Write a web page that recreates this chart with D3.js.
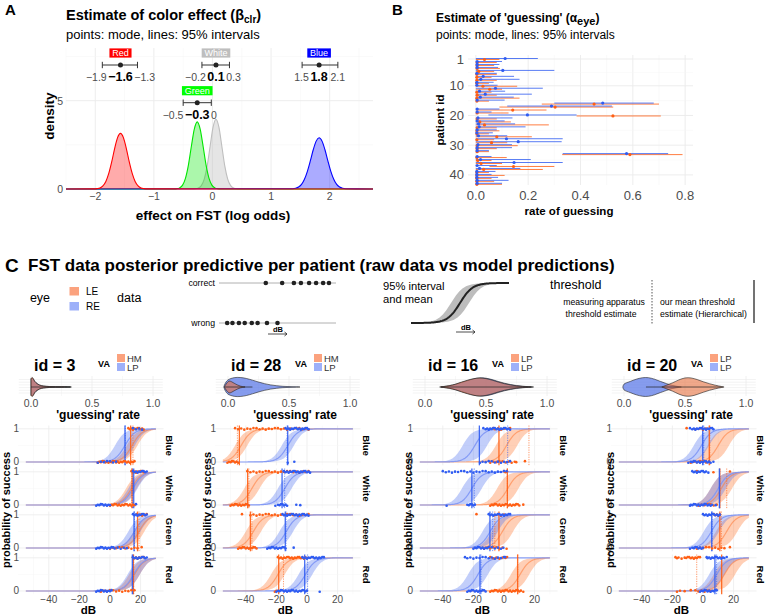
<!DOCTYPE html>
<html><head><meta charset="utf-8">
<script src="https://cdn.jsdelivr.net/npm/d3@7"></script>
<style>body{margin:0;background:#fff} svg text{font-family:"Liberation Sans",Arial,sans-serif}</style>
</head><body>
<svg id="c" width="766" height="616"></svg>
<script>
// ===================== DATA =====================
// Panel A: colour effect
const colorNames = ["Red", "White", "Green", "Blue"];
const colorMode = [-1.57, 0.06, -0.26, 1.82];
const colorLo = [-1.88, -0.18, -0.50, 1.53];
const colorHi = [-1.28, 0.29, -0.02, 2.14];
const densOffsets = [-0.45,-0.4,-0.35,-0.3,-0.25,-0.2,-0.15,-0.1,-0.05,0,0.05,0.1,0.15,0.2,0.25,0.3,0.35,0.4,0.45];
const densRed   = [0.005,0.02,0.06,0.18,0.43,0.88,1.53,2.29,2.91,3.15,2.91,2.29,1.53,0.88,0.43,0.18,0.06,0.02,0.005];
const densWhite = [0,0,0.01,0.05,0.19,0.56,1.31,2.42,3.50,3.95,3.50,2.42,1.31,0.56,0.19,0.05,0.01,0,0];
const densGreen = [0,0.003,0.015,0.065,0.22,0.62,1.37,2.42,3.39,3.8,3.39,2.42,1.37,0.62,0.22,0.065,0.015,0.003,0];
const densBlue  = [0.013,0.04,0.11,0.26,0.55,1.00,1.59,2.22,2.71,2.9,2.71,2.22,1.59,1.00,0.55,0.26,0.11,0.04,0.013];
const axisATicksX = [-2, -1, 0, 1, 2];
const axisATicksY = [0, 5];

// Panel B: guessing per patient / eye
const patientIds = [1,2,3,4,5,6,7,8,9,10,11,12,13,14,15,16,17,18,19,20,21,22,23,24,25,26,27,28,29,30,31,32,33,34,35,36,37,38,39,40,41,42,43];
const leMode = [0.033,0.005,0.005,0.005,0.011,0.004,0.004,0.004,0.004,0.027,0.053,0.004,0.005,0.004,0.004,0.452,0.303,0.141,0.005,0.524,0.005,0.015,0.033,0.005,0.004,0.004,0.08,0.004,0.06,0.005,0.005,0.005,0.589,0.004,0.007,0.02,0.144,0.03,0.004,0.004,0.004,0.004,0.004];
const leLo   = [0,0,0,0,0,0,0,0,0,0,0,0,0,0,0,0.252,0.09,0,0,0.385,0,0,0,0,0,0,0,0,0,0,0,0,0.33,0,0,0,0.052,0,0,0,0,0,0];
const leHi   = [0.09,0.08,0.07,0.092,0.07,0.08,0.06,0.08,0.05,0.158,0.10,0.06,0.08,0.167,0.05,0.70,0.525,0.27,0.125,0.707,0.08,0.134,0.279,0.08,0.09,0.05,0.214,0.07,0.12,0.16,0.08,0.05,0.79,0.118,0.06,0.10,0.30,0.256,0.05,0.11,0.06,0.07,0.10];
const reMode = [0.112,0.005,0.005,0.005,0.103,0.004,0.028,0.019,0.004,0.004,0.075,0.014,0.036,0.017,0.005,0.485,0.289,0.005,0.005,0.197,0.008,0.005,0.01,0.013,0.005,0.004,0.01,0.117,0.162,0.008,0.005,0.005,0.576,0.005,0.018,0.146,0.005,0.014,0.004,0.004,0.004,0.005,0.005];
const reLo   = [0,0,0,0,0,0,0,0,0,0,0,0,0,0,0,0.30,0.12,0,0,0.048,0,0,0,0,0,0,0,0,0,0,0,0,0.332,0,0,0,0,0,0,0,0,0,0];
const reHi   = [0.237,0.10,0.09,0.085,0.30,0.08,0.146,0.167,0.068,0.083,0.256,0.112,0.214,0.145,0.11,0.68,0.52,0.09,0.06,0.385,0.14,0.11,0.15,0.19,0.08,0.065,0.12,0.332,0.328,0.138,0.138,0.05,0.735,0.06,0.21,0.332,0.08,0.17,0.075,0.06,0.085,0.125,0.10];
const axisBTicksX = [0, 0.2, 0.4, 0.6, 0.8];
const axisBTicksY = [1, 10, 20, 30, 40];

// Panel C: four patients x four colours
const cPatients = [3, 28, 16, 20];
const cVAle = ["HM", "HM", "LP", "LP"];
const cVAre = ["LP", "LP", "LP", "LP"];
const cFacets = ["Blue", "White", "Green", "Red"];
const cTicksX = [-40, -20, 0, 20];
const cViolinTicks = [0, 0.5, 1];
// model curves (dB): 50% point of mean curve, half-width of 95% band
const leMid  = [[14.5,14,19,16],[-43,-36,-35,-19],[1.7,2.5,-1,10.5],[10,12,15.5,14]];
const leBand = [[3.5,3.5,3.5,3.5],[4,5,5,4.5],[7,7,7,6],[7,7,7,7]];
const reMid  = [[9.8,15,16,15.5],[-12.5,-14.5,-13.5,-1],[-19,-21,-9,-17],[-1,10,5.5,9]];
const reBand = [[6.5,3,4,4],[4,4.5,4.5,4.5],[8,6.5,5,6.5],[5,5,5,5]];
// thresholds: hierarchical estimate (solid) & apparatus estimate (dotted)
const leThr = [[13.5,14.5,18,15.3],[-44.2,-38.8,-37,-18.5],[-3.3,2.2,-3.3,8.9],[4.1,11,11,12.2]];
const leApp = [[15,14,19,15.5],[-45.5,-38,-36,-15.3],[16.3,2.2,-6,9],[4.5,15.5,12,-4.1]];
const reThr = [[9.8,15.5,15.7,14.6],[-12.6,-16.3,-14.2,-1.5],[-16.1,-21,-9.2,-15.7],[-0.2,10.7,5.7,7.8]];
const reApp = [[10,14.7,16,15],[-13,-14.6,-13.7,0.4],[2.4,-19.4,-7.4,-15],[0.5,11,6,8.9]];
// raw responses (dB of stimulus), correct = 1, wrong = 0
const leCorrect = [
  [[12,13,14,15,16,17,18,19,20,21,22],[14,15,16,17,18,19,20,21,22],[17.5,19,20,21,22,23,24],[15,16,17,18,19,20,21,22]],
  [[-47,-45,-43,-41,-39,-37,-35,-33,-31,-29,-27,-25,-23,-21,-19,-17,-15,-13,-11,-9,-7,-5,-3,-1,1],[-39,-37,-35,-33,-31,-29,-27,-25,-23,-21,-19,-17,-15,-13,-11,-9,-7,-5,-3,-1,1],[-42.5,-37,-35,-33,-31,-29,-27,-25,-23,-21,-19,-17,-15,-13,-11,-9,-7,-5,-3,-1,1],[-19,-18,-17,-16,-15,-14,-13,-12,-11,-10,-9,-8,-7,-6,-5,-4,-3,-2,-1,0]],
  [[-7,-6,-4,-2,0,2,4],[0,1,2],[-18,-6,-4,-2,0,2],[-9,-7,-5,-3,-1,1,2]],
  [[-10.7,-5,-2,0,2,4],[-4,6.8,17.6],[7,8,9,10,11],[-18,-17,-16,-14,-12,-11,-10,-9,-8,-7,-6,-5,-4,-3,-2]]
];
const leWrong = [
  [[-8,-7,-6,-5,-4,-3,-2,-1,0,1,2,3,4,5,6,7,8,9,10,11,12,13,14,15,16],[0,1,2,3,4,5,6,7,8,9,10,11,12,13,14,15,16],[0,2,4,6,8,10,12,14,16,18,20.7],[-6,-4,-2,0,2,4,6,8,10,12,14,16]],
  [[-52,-51,-50,-49,-48,-47,-46,-45],[-50,-49,-48,-47,-46,-45,-44,-43,-42,-41,-40,-39,-38],[-45,-44,-43,-42,-41,-40,-39,-38,-37,-36,-35,-34,-33],[-21,-20]],
  [[-9,-7,-5,-3,-1,1,3,5,7,8,13.7],[-9,-8,-7,-6,-5,-4,-3,-2,-1,0,1,2,3,4,5,6,7,8,9,10,12.6],[-13,-11,-9,-7,-5,-3,-1,1.7],[-9,-8,-7,-6,-5,-4,-3,-2,-1,0,1,2,3,4,5,6,7,8,9,10,11,12.6]],
  [[-8,-6,-4,-2,0,2,4],[-3,-1,1,3,5,7,9],[-4,-2,0,2,4,6,8,10,12,14,17.6],[-17,-15,-12,-8,-5,-3,-1,1,3,4.6]]
];
const reCorrect = [
  [[15,17,19,21],[15,16,17,18,19,20,21,22,23,24],[15,16,17,18,19,20,21,22,23,24],[15,16,17,18,19,20,21,22,23,24]],
  [[-14,-13,-12,-11,-10,-9,-8,-7,-6,-5,-4,-3,-2,-1,0,1],[-15,-14,-13,-12,-11,-10,-9,-8,-7,-6,-5,-4,-3,-2,-1,0,1,2],[-16,-15,-14,-13,-12,-11,-10,-9,-8,-7,-6,-5,-4,-3,-2,-1,0,1],[-3,-2,-1,0,1,2,3,4,5,6,7,8,9,10,11]],
  [[-13.5,-12,-11,-10,-9,-8,-7,-6,-5,-4,-3,-2,-1,0,1,2,3,4],[-40,-38,-36,-34,-32,-30,-28,-26,-24,-22,-20,-18,-16,-14,-12,-10,-8,-6,-4,-2,0,1.7],[-10,-9,-8,-7,-6,-5,-4,-3,-2,-1,0,1,2,3,4],[-25.5,-24,-22,-20,-18,-16,-14,-12,-10,-8,-6,-4,-2,0,0.7]],
  [[-8.5,-7,-6,-5,-4,-3,-2,-1,0,1,2,3,4,5,6,6.8],[-7,-6,-5,-4,-3,-2,-1,0,1,2,3.5],[0,1,2,3,4,5,6,7,8,9,10,11],[2.4,3,4,5,6,7,8,9,10,11,12,13,14,15.5]]
];
const reWrong = [
  [[-8,-6,-4,-2,0,2,4],[-9,-8,-7,-6,-5,-4,-3,-2,-1,0,17],[-9,-8,-7,-6,-5,-4,-3,-2,-1,0,1,2,3,5,7,9,11],[-9,-8,-7,-6,-5,-4,-3,-2,-1,0,1]],
  [[-12.6,-8.3],[-20.7,-19,-18,-17,-16,-15,-14,-13,-7,-4.4],[-26,-25,-24,-23,-22,-21,-20,-19,-18,-17,-16,-15,-14,-8.7],[-20,-19,-18,-17,-16,-15,-14,-13,-12,-11,-10,-9,-8,-7,-6,-5,-4,-3,-2,-1,0,8.3]],
  [[-15.7,-14,-12,-10,-8,-6,-4,-2,0,2,4],[-37.5,-24,-23,-22,-21,-20,-19],[-20,-19,-18,-17,-16,-15,-14,-13,-12,-11,-10,-8,-6,-4,-2,-0.4],[-24,-23,-22,-21,-20,-19,-18,-17,-16,-15,-14,-13,-12]],
  [[-9.6,-8,-7,-6,-5,-4,-3,-2,-1,0,1,2,3,4,5,6.8],[-8.5,-8,-7,-6,-5,-4,-3,-2,-1,0,1,2,3,4,5,6,8.3],[-8.5,-7,-6,-5,-4,-3,-2,-1,0],[-2,-1,0,1,2,3,4,5,6,7,8,9]]
];
// posterior of guessing rate: [rate, relative density]
const vioLE = [
  [[0,0.9],[0.01,1],[0.02,0.85],[0.03,0.6],[0.05,0.35],[0.07,0.2],[0.1,0.1],[0.15,0.05],[0.2,0.03],[0.25,0.02],[0.3,0.01],[0.33,0]],
  [[-0.03,0],[-0.01,0.4],[0.01,0.62],[0.03,0.55],[0.05,0.4],[0.08,0.2],[0.1,0.1],[0.12,0.04],[0.14,0]],
  [[0.12,0],[0.2,0.15],[0.25,0.3],[0.3,0.52],[0.35,0.72],[0.4,0.88],[0.45,0.95],[0.5,0.88],[0.55,0.72],[0.6,0.52],[0.65,0.35],[0.7,0.22],[0.75,0.12],[0.8,0.06],[0.85,0.02],[0.87,0]],
  [[0.31,0],[0.35,0.2],[0.4,0.45],[0.45,0.75],[0.5,0.95],[0.55,0.95],[0.6,0.78],[0.65,0.55],[0.7,0.35],[0.75,0.18],[0.8,0.05],[0.82,0]]
];
const vioRE = [
  [[0,0.85],[0.01,0.95],[0.02,0.82],[0.03,0.6],[0.05,0.36],[0.07,0.21],[0.1,0.11],[0.15,0.05],[0.2,0.03],[0.25,0.02],[0.3,0.01],[0.32,0]],
  [[-0.035,0],[-0.02,0.45],[0,0.75],[0.05,0.98],[0.1,1],[0.15,0.9],[0.2,0.72],[0.25,0.52],[0.3,0.35],[0.35,0.22],[0.4,0.13],[0.45,0.07],[0.5,0.04],[0.55,0.015],[0.59,0]],
  [[0.13,0],[0.2,0.13],[0.25,0.28],[0.3,0.48],[0.35,0.68],[0.4,0.86],[0.45,0.96],[0.5,0.92],[0.55,0.78],[0.6,0.58],[0.65,0.4],[0.7,0.26],[0.75,0.15],[0.8,0.08],[0.85,0.03],[0.89,0]],
  [[-0.01,0],[0,0.3],[0.05,0.58],[0.1,0.82],[0.15,0.97],[0.2,0.98],[0.25,0.82],[0.3,0.58],[0.35,0.35],[0.4,0.15],[0.45,0.04],[0.47,0]]
];
const vioLine = [[0, 0.33], [-0.03, 0.2], [0.13, 0.88], [0.18, 0.81]];
// legend glyph samples
const glyphCorrect = [4.0, 5.4, 6.4, 7.0, 7.7, 8.3, 8.9, 9.4];
const glyphWrong = [0.7, 1.15, 1.7, 2.2, 2.8, 3.3, 4.1, 5.0];

// ===================== DRAWING =====================
const svg = d3.select("#c");
function T(g, x, y, s, o = {}) {
  const t = g.append("text").attr("x", x).attr("y", y).text(s)
    .attr("font-size", o.size || 12).attr("fill", o.fill || "#000")
    .attr("text-anchor", o.anchor || "start")
    .attr("dominant-baseline", o.base || "central");
  if (o.bold) t.attr("font-weight", "bold");
  if (o.rotate) t.attr("transform", `rotate(${o.rotate},${x},${y})`);
  return t;
}
const GRID = "#ebebeb", GRIDm = "#f5f5f5", TICK = "#4d4d4d";
const LEc = "#ff5f14", REc = "#2f5cf2";

// ---------- Panel A ----------
const gA = svg.append("g");
const xA = d3.scaleLinear().domain([-2.5, 2.74]).range([66, 373]);
const yA = d3.scaleLinear().domain([0, 7.98]).range([189, 48]);
d3.range(-2.5, 2.6, 0.5).forEach(v => {
  gA.append("line").attr("x1", xA(v)).attr("x2", xA(v)).attr("y1", yA(0)).attr("y2", yA(7.98))
    .attr("stroke", Number.isInteger(v) ? GRID : GRIDm).attr("stroke-width", Number.isInteger(v) ? 0.9 : 0.5);
});
[0, 2.5, 5, 7.5].forEach(v => {
  gA.append("line").attr("x1", xA(-2.5)).attr("x2", xA(2.74)).attr("y1", yA(v)).attr("y2", yA(v))
    .attr("stroke", v % 5 === 0 ? GRID : GRIDm).attr("stroke-width", v % 5 === 0 ? 0.9 : 0.5);
});
const densByName = { Red: densRed, White: densWhite, Green: densGreen, Blue: densBlue };
const strokeA = { Red: "#ff0000", White: "#bebebe", Green: "#00e600", Blue: "#0000ff" };
const fillA = { Red: "rgba(255,0,0,0.33)", White: "rgba(190,190,190,0.4)", Green: "rgba(0,230,0,0.33)", Blue: "rgba(0,0,255,0.33)" };
const boxA = { Red: "#ff0000", White: "#bebebe", Green: "#00ff00", Blue: "#0000ff" };
const areaA = d3.area().x(d => xA(d[0])).y0(yA(0)).y1(d => yA(d[1])).curve(d3.curveMonotoneX);
const lineA = d3.line().x(d => xA(d[0])).y(d => yA(d[1])).curve(d3.curveMonotoneX);
["White", "Green", "Blue", "Red"].forEach(nm => {
  const i = colorNames.indexOf(nm);
  const pts = [[-2.5, 0]].concat(densOffsets.map((o, k) => [colorMode[i] + o, densByName[nm][k]])).concat([[2.74, 0]]);
  gA.append("path").attr("d", areaA(pts)).attr("fill", fillA[nm]);
  gA.append("path").attr("d", lineA(pts)).attr("fill", "none").attr("stroke", strokeA[nm]).attr("stroke-width", 1.1);
});
axisATicksX.forEach(v => T(gA, xA(v), 196, d3.format("d")(v), { size: 10.5, fill: TICK, anchor: "middle" }));
axisATicksY.forEach(v => T(gA, 63, yA(v), String(v), { size: 10.5, fill: TICK, anchor: "end" }));
T(gA, 213, 215, "effect on FST (log odds)", { size: 13.5, bold: true, anchor: "middle" });
T(gA, 49, 116, "density", { size: 13.5, bold: true, anchor: "middle", rotate: -90 });
// labels with intervals
const fmt1 = v => { const r = Math.round(Math.abs(v) * 10) / 10; return (v < 0 && r !== 0 ? "\u2212" : "") + String(r); };
const rowsA = [];
colorNames.forEach((nm, i) => {
  const ext = [xA(colorLo[i]) - 14, xA(colorHi[i]) + 14];
  let r = 0;
  while (rowsA[r] && rowsA[r].some(e => e[0] < ext[1] && ext[0] < e[1])) r++;
  (rowsA[r] = rowsA[r] || []).push(ext);
  const yb = 53 + r * 37.7, ye = yb + 12, yn = yb + 24;
  const xm = xA(colorMode[i]);
  const bt = T(gA, xm, yb + 0.3, nm, { size: 9, fill: "#fff", anchor: "middle" });
  const bw = bt.node().getComputedTextLength();
  gA.insert("rect", () => bt.node()).attr("x", xm - bw / 2 - 2.8).attr("y", yb - 4.6).attr("width", bw + 5.6).attr("height", 9.2).attr("fill", boxA[nm]);
  gA.append("line").attr("x1", xA(colorLo[i])).attr("x2", xA(colorHi[i])).attr("y1", ye).attr("y2", ye).attr("stroke", "#333").attr("stroke-width", 1);
  [colorLo[i], colorHi[i]].forEach(v => gA.append("line").attr("x1", xA(v)).attr("x2", xA(v)).attr("y1", ye - 3.2).attr("y2", ye + 3.2).attr("stroke", "#333").attr("stroke-width", 1));
  gA.append("circle").attr("cx", xm).attr("cy", ye).attr("r", 2.5).attr("fill", "#222");
  const mt = T(gA, xm, yn, fmt1(colorMode[i]), { size: 12.5, bold: true, anchor: "middle" });
  const mw = mt.node().getComputedTextLength();
  const lt = T(gA, 0, yn, fmt1(colorLo[i]), { size: 10.5, fill: TICK, anchor: "middle" });
  const lw = lt.node().getComputedTextLength();
  lt.attr("x", Math.min(xA(colorLo[i]), xm - mw / 2 - 1.5 - lw / 2));
  const ht = T(gA, 0, yn, fmt1(colorHi[i]), { size: 10.5, fill: TICK, anchor: "middle" });
  const hw = ht.node().getComputedTextLength();
  ht.attr("x", Math.max(xA(colorHi[i]), xm + mw / 2 + 1.5 + hw / 2));
});
T(gA, 5, 9, "A", { size: 15, bold: true });
const tA = T(gA, 66, 15, "", { size: 14.5, bold: true });
tA.append("tspan").text("Estimate of color effect (\u03b2");
tA.append("tspan").text("clr").attr("font-size", 10).attr("dy", 4);
tA.append("tspan").text(")").attr("dy", -4);
T(gA, 66, 34, "points: mode, lines: 95% intervals", { size: 13 });

// ---------- Panel B ----------
const gB = svg.append("g");
const xB = d3.scaleLinear().domain([-0.03, 0.83]).range([468, 693]);
const yB = d3.scaleLinear().domain([-0.35, 43.4]).range([55, 185]);
[0.1, 0.3, 0.5, 0.7].forEach(v => gB.append("line").attr("x1", xB(v)).attr("x2", xB(v)).attr("y1", 55).attr("y2", 185).attr("stroke", GRIDm).attr("stroke-width", 0.5));
axisBTicksX.forEach(v => gB.append("line").attr("x1", xB(v)).attr("x2", xB(v)).attr("y1", 55).attr("y2", 185).attr("stroke", GRID).attr("stroke-width", 0.9));
[5.5, 15, 25, 35].forEach(v => gB.append("line").attr("x1", 468).attr("x2", 693).attr("y1", yB(v)).attr("y2", yB(v)).attr("stroke", GRIDm).attr("stroke-width", 0.5));
axisBTicksY.forEach(v => gB.append("line").attr("x1", 468).attr("x2", 693).attr("y1", yB(v)).attr("y2", yB(v)).attr("stroke", GRID).attr("stroke-width", 0.9));
patientIds.forEach((id, i) => {
  gB.append("line").attr("x1", xB(leLo[i])).attr("x2", xB(leHi[i])).attr("y1", yB(id) + 0.5).attr("y2", yB(id) + 0.5).attr("stroke", LEc).attr("stroke-width", 1).attr("opacity", 0.8);
  gB.append("line").attr("x1", xB(reLo[i])).attr("x2", xB(reHi[i])).attr("y1", yB(id) - 0.5).attr("y2", yB(id) - 0.5).attr("stroke", REc).attr("stroke-width", 1).attr("opacity", 0.8);
});
patientIds.forEach((id, i) => {
  gB.append("circle").attr("cx", xB(leMode[i])).attr("cy", yB(id) + 0.5).attr("r", 1.6).attr("fill", LEc);
  gB.append("circle").attr("cx", xB(reMode[i])).attr("cy", yB(id) - 0.5).attr("r", 1.6).attr("fill", REc);
});
axisBTicksX.forEach(v => T(gB, xB(v), 195, d3.format(".1f")(v), { size: 13, fill: TICK, anchor: "middle" }));
axisBTicksY.forEach(v => T(gB, 464, yB(v), String(v), { size: 13, fill: TICK, anchor: "end" }));
T(gB, 569, 211, "rate of guessing", { size: 11.5, bold: true, anchor: "middle" });
T(gB, 440, 120, "patient id", { size: 11.5, bold: true, anchor: "middle", rotate: -90 });
T(gB, 392, 9, "B", { size: 15, bold: true });
const tB = T(gB, 436, 18, "", { size: 12, bold: true });
tB.append("tspan").text("Estimate of 'guessing' (\u03b1");
tB.append("tspan").text("eye").attr("font-size", 11).attr("dy", 3);
tB.append("tspan").text(")").attr("dy", -3);
T(gB, 436, 35, "points: mode, lines: 95% intervals", { size: 12 });

// ---------- Panel C header & legend ----------
const gL = svg.append("g");
T(gL, 5, 265, "C", { size: 19, bold: true });
T(gL, 28, 265, "FST data posterior predictive per patient (raw data vs model predictions)", { size: 17, bold: true });
T(gL, 40, 297.5, "eye", { size: 12.5, anchor: "middle" });
gL.append("rect").attr("x", 69.5).attr("y", 287).attr("width", 9.5).attr("height", 8.5).attr("fill", "#fba27e");
gL.append("rect").attr("x", 69.5).attr("y", 302).attr("width", 9.5).attr("height", 8.5).attr("fill", "#9db0f9");
T(gL, 86, 291.5, "LE", { size: 10 });
T(gL, 86, 306.5, "RE", { size: 10 });
T(gL, 117, 297.5, "data", { size: 12.5 });
const gx = d3.scaleLinear().domain([0, 10]).range([219, 336]);
[[283, "correct", glyphCorrect], [323, "wrong", glyphWrong]].forEach(([y, lab, arr]) => {
  T(gL, 215, y, lab, { size: 8.7, anchor: "end" });
  gL.append("line").attr("x1", gx(0)).attr("x2", gx(10)).attr("y1", y).attr("y2", y).attr("stroke", "#b0b0b0").attr("stroke-width", 1);
  arr.forEach(v => gL.append("circle").attr("cx", gx(v)).attr("cy", y).attr("r", 2.3).attr("fill", "#222"));
});
function dBArrow(x, y) {
  T(gL, x + 10, y, "dB", { size: 7.5, bold: true, anchor: "middle" });
  gL.append("path").attr("d", `M${x},${y + 5}H${x + 19}M${x + 16.5},${y + 3}L${x + 19},${y + 5}L${x + 16.5},${y + 7}`).attr("fill", "none").attr("stroke", "#222").attr("stroke-width", 0.8);
}
dBArrow(268, 329);
// sigmoid glyph
const sgx = d3.scaleLinear().domain([-6, 6]).range([411, 509]);
const sgy = d3.scaleLinear().domain([0, 1]).range([323, 283]);
const sgGrid = d3.range(-6, 6.01, 0.1);
const sig = z => 1 / (1 + Math.exp(-z));
gL.append("path").attr("d", d3.area().x(d => sgx(d)).y0(d => sgy(sig((d - 1.1) * 1.3))).y1(d => sgy(sig((d + 1.1) * 1.3)))(sgGrid)).attr("fill", "#bdbdbd");
gL.append("path").attr("d", d3.line().x(d => sgx(d)).y(d => sgy(sig(d * 1.3)))(sgGrid)).attr("fill", "none").attr("stroke", "#222").attr("stroke-width", 2);
T(gL, 383, 285.6, "95% interval", { size: 11.2 });
T(gL, 383, 298.8, "and mean", { size: 11.2 });
dBArrow(456, 327);
T(gL, 550, 285, "threshold", { size: 12.5 });
T(gL, 604, 302, "measuring apparatus", { size: 8.7, anchor: "middle" });
T(gL, 601, 314, "threshold estimate", { size: 8.7, anchor: "middle" });
gL.append("line").attr("x1", 652).attr("x2", 652).attr("y1", 280).attr("y2", 325).attr("stroke", "#555").attr("stroke-width", 1).attr("stroke-dasharray", "1.5,1.5");
T(gL, 660, 302, "our mean threshold", { size: 8.7 });
T(gL, 660, 314, "estimate (Hierarchical)", { size: 8.7 });
gL.append("line").attr("x1", 754).attr("x2", 754).attr("y1", 280).attr("y2", 323).attr("stroke", "#444").attr("stroke-width", 1.5);

// ---------- Panel C subplots ----------
const colOff = [0, 197, 394, 593];
const probX = [6, 207, 408, 610];
const stripX = [169, 169, 169, 167];
const curveScale = 3.2;
const dBgrid = d3.range(-55, 30.01, 0.5);
const jit = [0.02, -0.015, 0.01, -0.025, 0.005, -0.005, 0.025];
cPatients.forEach((pid, p) => {
  const ox = colOff[p];
  const g = svg.append("g");
  // title & legend
  T(g, ox + 34, 365, "id = " + pid, { size: 16, bold: true });
  T(g, ox + 104, 364, "VA", { size: 9, bold: true, anchor: "middle" });
  g.append("rect").attr("x", ox + 117).attr("y", 354).attr("width", 8).attr("height", 8).attr("fill", "#fba27e");
  g.append("rect").attr("x", ox + 117).attr("y", 363).attr("width", 8).attr("height", 8).attr("fill", "#9db0f9");
  T(g, ox + 127, 358, cVAle[p], { size: 9.5, fill: "#333" });
  T(g, ox + 127, 367.5, cVAre[p], { size: 9.5, fill: "#333" });
  // violin panel
  const xv = d3.scaleLinear().domain([-0.1, 1.08]).range([ox + 18.8, ox + 162.8]);
  const yv0 = 376, yv1 = 396, yvc = 387, vh = 9.5;
  [0, 0.25, 0.5, 0.75, 1].forEach(v => g.append("line").attr("x1", xv(v)).attr("x2", xv(v)).attr("y1", yv0).attr("y2", yv1).attr("stroke", v * 2 % 1 === 0 ? GRID : GRIDm).attr("stroke-width", 0.7));
  d3.range(0, 6).forEach(k => g.append("line").attr("x1", xv(-0.1)).attr("x2", xv(1.08)).attr("y1", 379.5 + k * 2.7).attr("y2", 379.5 + k * 2.7).attr("stroke", GRID).attr("stroke-width", 0.6));
  const vArea = d3.area().x(d => xv(d[0])).y0(d => yvc + d[1] * vh).y1(d => yvc - d[1] * vh).curve(d3.curveCatmullRom);
  g.append("path").attr("d", vArea(vioRE[p])).attr("fill", "rgb(87,118,232)").attr("fill-opacity", 0.72).attr("stroke", "#222").attr("stroke-width", 0.6);
  g.append("path").attr("d", vArea(vioLE[p])).attr("fill", "rgb(230,112,62)").attr("fill-opacity", 0.6).attr("stroke", "#222").attr("stroke-width", 0.6);
  g.append("line").attr("x1", xv(vioLine[p][0])).attr("x2", xv(vioLine[p][1])).attr("y1", yvc).attr("y2", yvc).attr("stroke", "#222").attr("stroke-width", 0.7);
  cViolinTicks.forEach(v => T(g, xv(v), 403, d3.format(".1f")(v), { size: 10.5, fill: TICK, anchor: "middle" }));
  T(g, xv(0.55), 414.5, "'guessing' rate", { size: 12, bold: true, anchor: "middle" });
  // facets
  const xc = d3.scaleLinear().domain([-60, 35]).range([ox + 18.2, ox + 163.55]);
  cFacets.forEach((fc, f) => {
    const top = 425.5 + 43 * f;
    const yc = d3.scaleLinear().domain([-0.1, 1.1]).range([top + 39.8, top]);
    d3.range(-50, 31, 10).forEach(v => g.append("line").attr("x1", xc(v)).attr("x2", xc(v)).attr("y1", top).attr("y2", top + 39.8).attr("stroke", v % 20 === 0 ? GRID : GRIDm).attr("stroke-width", v % 20 === 0 ? 0.8 : 0.5));
    [0, 0.5, 1].forEach(v => g.append("line").attr("x1", xc(-60)).attr("x2", xc(35)).attr("y1", yc(v)).attr("y2", yc(v)).attr("stroke", v === 0.5 ? GRIDm : GRID).attr("stroke-width", v === 0.5 ? 0.5 : 0.8));
    const eyes = [
      { mid: leMid, band: leBand, thr: leThr, app: leApp, cor: leCorrect, wr: leWrong, col: LEc, fill: "#ff7a36", line: "#ff7a36", lop: 0.55 },
      { mid: reMid, band: reBand, thr: reThr, app: reApp, cor: reCorrect, wr: reWrong, col: REc, fill: "#5676f2", line: "#7d95f5", lop: 0.9 }
    ];
    eyes.forEach(e => {
      const m = e.mid[p][f], w = e.band[p][f];
      g.append("path").attr("d", d3.area().x(d => xc(d)).y0(d => yc(sig((d - m - w) / curveScale))).y1(d => yc(sig((d - m + w) / curveScale)))(dBgrid))
        .attr("fill", e.fill).attr("fill-opacity", 0.36);
    });
    eyes.forEach(e => {
      const m = e.mid[p][f];
      g.append("path").attr("d", d3.line().x(d => xc(d)).y(d => yc(sig((d - m) / curveScale)))(dBgrid))
        .attr("fill", "none").attr("stroke", e.line).attr("stroke-width", 1.2).attr("stroke-opacity", e.lop);
    });
    eyes.forEach(e => {
      g.append("line").attr("x1", xc(e.app[p][f])).attr("x2", xc(e.app[p][f])).attr("y1", top).attr("y2", top + 39.8)
        .attr("stroke", e.col).attr("stroke-width", 0.8).attr("stroke-dasharray", "1.2,1.2").attr("opacity", 0.8);
      g.append("line").attr("x1", xc(e.thr[p][f])).attr("x2", xc(e.thr[p][f])).attr("y1", top).attr("y2", top + 39.8)
        .attr("stroke", e.col).attr("stroke-width", 1.3).attr("opacity", 0.9);
    });
    eyes.forEach(e => {
      e.cor[p][f].forEach((v, k) => g.append("circle").attr("cx", xc(v)).attr("cy", yc(1 + jit[k % 7])).attr("r", 1.3).attr("fill", e.col));
      e.wr[p][f].forEach((v, k) => g.append("circle").attr("cx", xc(v)).attr("cy", yc(0 + jit[(k + 3) % 7])).attr("r", 1.3).attr("fill", e.col));
    });
    T(g, ox + 19, yc(1), "1", { size: 10, fill: TICK, anchor: "end" });
    T(g, ox + 19, yc(0), "0", { size: 10, fill: TICK, anchor: "end" });
    T(g, ox + stripX[p], top + 20, fc, { size: 9.5, bold: true, anchor: "middle", rotate: 90 });
  });
  cTicksX.forEach(v => T(g, xc(v), 599.5, d3.format("d")(v), { size: 10, fill: TICK, anchor: "middle" }));
  T(g, ox + 88.5, 610, "dB", { size: 11.5, bold: true, anchor: "middle" });
  T(g, probX[p], 510, "probability of success", { size: 11, bold: true, anchor: "middle", rotate: -90 });
});
</script>
</body></html>
